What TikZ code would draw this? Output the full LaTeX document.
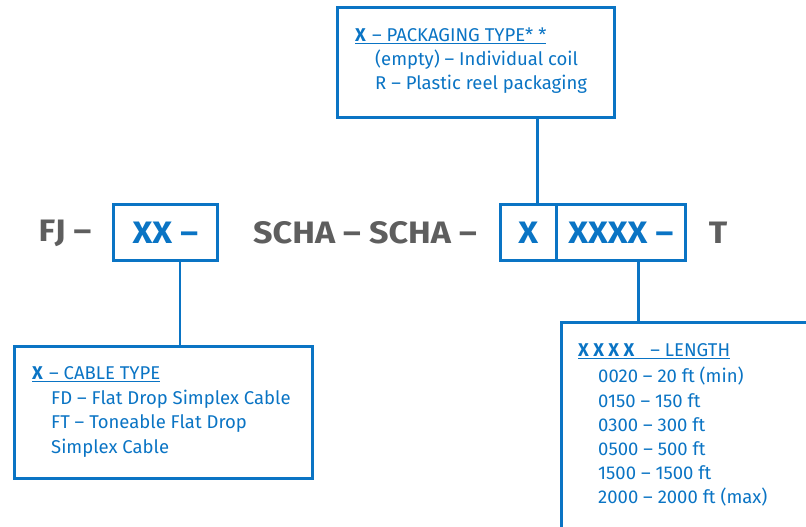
\documentclass[tikz,border=0pt]{standalone}
\usepackage{fontspec}
\setmainfont{Fira Sans}
\newfontfamily\codefont[FakeStretch=1.1]{Fira Sans}
\usetikzlibrary{positioning}
\usetikzlibrary{calc}
\definecolor{partblue}{HTML}{0A74C4}
\definecolor{partgray}{HTML}{5E5E5E}
\tikzset{
    part number/.style={
            x=1pt,y=-1pt,
            frame/.style={draw=partblue,line width=2.6pt,inner sep=0pt},
            wire/.style={draw=partblue,line width=2.6pt},
            code/.style={font=\codefont\fontsize{31}{31}\selectfont\bfseries,inner sep=0pt},
            fixed/.style={code,text=partgray},
            field/.style={code,text=partblue},
            note/.style={font=\fontsize{18.5}{18.5}\selectfont,text=partblue,anchor=west,inner sep=0pt},
            heading/.style={note,text depth=3pt}
        }
    }
\newcommand{\notetitle}[2]{\underline{\textbf{#1}\,\,#2}}
\begin{document}
\begin{tikzpicture}[part number]
        \useasboundingbox (0,0) rectangle (806,527);

        % boxes
        \node (pack) [frame, minimum width=277, minimum height=110, anchor=north west] at (336,6) {};
        \node (xx) [frame, minimum width=104, minimum height=56, anchor=north west] at (112,203) {};
        \node (x) [frame, minimum width=56, minimum height=56, anchor=north west] at (499,203) {};
        \node (xxxx) [frame, minimum width=129, minimum height=56, anchor=north west] at (555,203) {};
        \node (cable) [frame, minimum width=298, minimum height=132, anchor=north west] at (13,345) {};
        \node (len) [frame, minimum width=260, minimum height=220, anchor=north west] at (560,321) {};

        % part number
        \node (fj) [fixed] at (65,233) {FJ –};
        \node (xxcode) [field] at (xx.center) {XX –};
        \node (scha) [fixed] at (365,233) {SCHA – SCHA –};
        \node (xcode) [field] at (x.center) {X};
        \node (xxxxcode) [field] at (xxxx.center) {XXXX –};
        \node (t) [fixed] at (718,233) {T};

        % connectors
        \draw [wire] ([xshift=9]x.north) -- ([xshift=9]x.north |- pack.south);
        \draw [wire] ([xshift=14.5]xx.south) -- ([xshift=14.5]xx.south |- cable.north);
        \draw [wire] ([xshift=17.5]xxxx.south) -- ([xshift=17.5]xxxx.south |- len.north);

        % packaging type
        \node (packtitle) [heading] at (355,36) {\notetitle{X}{– PACKAGING TYPE* *}};
        \node (pack1) [note] at (375,60) {(empty) – Individual coil};
        \node (pack2) [note] at (375,84) {R – Plastic reel packaging};

        % cable type
        \node (cabletitle) [heading] at (32,375) {\notetitle{X}{– CABLE TYPE}};
        \node (cable1) [note] at (51,399) {FD – Flat Drop Simplex Cable};
        \node (cable2) [note] at (51,424) {FT – Toneable Flat Drop};
        \node (cable3) [note] at (51,448) {Simplex Cable};

        % length
        \node (lentitle) [heading] at (578,352) {\notetitle{X X X X}{\ \ – LENGTH}};
        \foreach \code/\txt [count=\i] in {0020/20 ft (min),0150/150 ft,0300/300 ft,0500/500 ft,1500/1500 ft,2000/2000 ft (max)}
            \node (len\i) [note] at (598,352+24.2*\i) {\code\ – \txt};
    \end{tikzpicture}
\end{document}
